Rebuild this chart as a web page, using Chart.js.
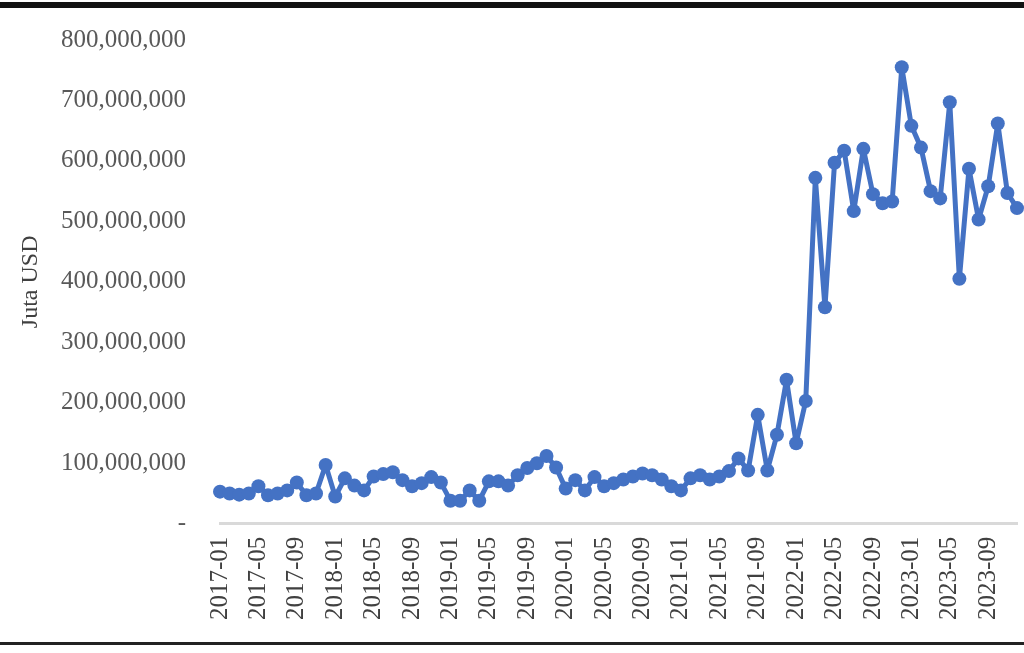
<!DOCTYPE html>
<html>
<head>
<meta charset="utf-8">
<script src="https://cdn.jsdelivr.net/npm/chart.js@4.4.0/dist/chart.umd.min.js"></script>
<style>
  html, body { margin: 0; padding: 0; background: #fff; overflow: hidden; }
  #wrap { position: relative; width: 1024px; height: 653px; }
  #topLine { position: absolute; left: 0; top: 2px; width: 1024px; height: 6px; background: #111; }
  #bottomLine { position: absolute; left: 0; top: 642px; width: 1024px; height: 3px; background: #222; }
</style>
</head>
<body>
<div id="wrap">
  <canvas id="lineChart" width="1024" height="653"></canvas>
  <div id="topLine"></div>
  <div id="bottomLine"></div>
</div>
<script>
// monthly values, millions of USD
const startYear = 2017;
const monthCount = 84;
const valuesMillion = [
  53, 50, 48, 50, 62, 47, 50, 55, 68, 47, 50, 97,
  45, 75, 63, 55, 78, 82, 85, 72, 62, 67, 77, 68,
  38, 38, 55, 38, 70, 70, 63, 80, 92, 100, 112, 93,
  58, 72, 55, 77, 62, 67, 73, 78, 83, 80, 73, 62,
  55, 75, 80, 73, 78, 87, 108, 88, 180, 88, 147, 238,
  133, 203, 572, 358, 597, 617, 517, 620, 545, 530, 533, 755,
  658, 622, 550, 538, 697, 405, 587, 503, 558, 662, 547, 522
];
const yTicks = [0, 100e6, 200e6, 300e6, 400e6, 500e6, 600e6, 700e6, 800e6];
const labelEvery = 4;

const labels = [];
for (let i = 0; i < monthCount; i++) {
  const y = startYear + Math.floor(i / 12);
  const m = (i % 12) + 1;
  labels.push(y + "-" + (m < 10 ? "0" + m : m));
}
const values = valuesMillion.map((v) => v * 1e6);

const serif = "'Liberation Serif', 'Times New Roman', serif";

const ctx = document.getElementById("lineChart").getContext("2d");
new Chart(ctx, {
  type: "line",
  data: {
    labels: labels,
    datasets: [
      {
        label: "Juta USD",
        data: values,
        borderColor: "#4472C4",
        backgroundColor: "#4472C4",
        borderWidth: 5,
        borderJoinStyle: "round",
        pointRadius: 7,
        pointBorderWidth: 0,
        pointBackgroundColor: "#4472C4",
        tension: 0,
        clip: false,
      },
    ],
  },
  options: {
    responsive: false,
    animation: false,
    layout: { padding: { top: 40, right: 3, bottom: 20, left: 0 } },
    plugins: {
      legend: { display: false },
      tooltip: { enabled: false },
    },
    scales: {
      x: {
        offset: false,
        grid: { display: false, drawTicks: false },
        border: { display: true, color: "#d9d9d9", width: 3 },
        afterFit: function (scale) {
          // the picture is cut at the right, no room kept for the last label
          scale.paddingRight = 0;
          scale.paddingLeft = 0;
        },
        ticks: {
          autoSkip: false,
          minRotation: 90,
          maxRotation: 90,
          padding: 13,
          color: "#404040",
          font: { family: serif, size: 25 },
          callback: function (val, i) {
            return i % labelEvery === 0 ? labels[i] : "";
          },
        },
      },
      y: {
        min: 0,
        max: 800e6,
        afterBuildTicks: function (scale) {
          scale.ticks = yTicks.map((v) => ({ value: v }));
        },
        afterFit: function (scale) {
          scale.width = 220;
          scale.paddingTop = 0;
          scale.paddingBottom = 0;
        },
        grid: { display: false, drawTicks: false },
        border: { display: false },
        ticks: {
          padding: 34,
          color: "#595959",
          font: { family: serif, size: 25 },
          callback: function (v) {
            return v === 0 ? "-" : v.toLocaleString("en-US");
          },
        },
        title: {
          display: true,
          text: "Juta USD",
          color: "#404040",
          font: { family: serif, size: 24 },
          padding: { top: 16, bottom: 0 },
        },
      },
    },
  },
});
</script>
</body>
</html>
